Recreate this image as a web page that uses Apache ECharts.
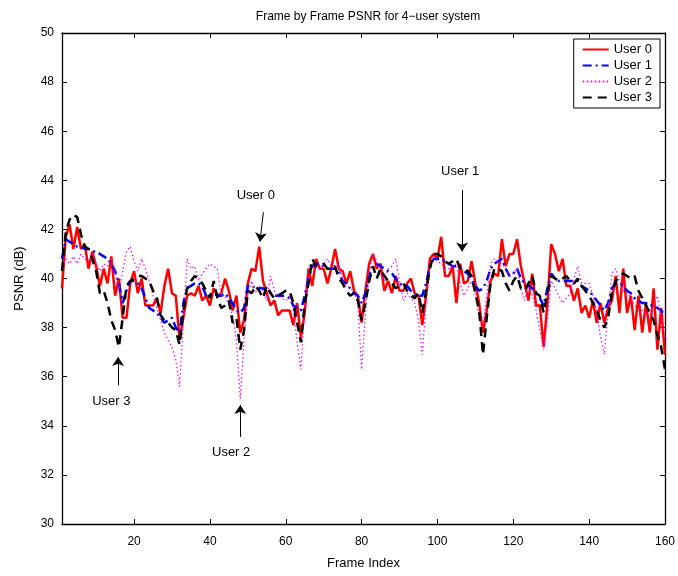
<!DOCTYPE html>
<html>
<head>
    <meta charset="utf-8">
    <script src="https://cdn.jsdelivr.net/npm/echarts@6/dist/echarts.min.js"></script>
    <style>
        html, body { margin: 0; padding: 0; background: #fff; }
        #main { width: 678px; height: 576px; }
    </style>
</head>
<body>
    <div id="main"></div>
    <script type="text/javascript">
        // PSNR per frame
        var user0 = [
            39.6, 41.7, 42.2, 41.2, 42.1, 41.2, 41.4, 40.4, 41.1, 40.5,
            39.7, 40.4, 39.8, 40.9, 39.3, 40.0, 38.4, 38.4, 39.8, 40.3,
            39.4, 40.0, 38.9, 38.9, 38.9, 39.2, 38.6, 39.7, 40.4, 39.4,
            39.3, 37.5, 38.4, 39.3, 39.4, 39.3, 39.7, 39.1, 39.3, 38.9,
            39.6, 39.3, 39.4, 40.0, 39.5, 38.7, 39.3, 37.8, 38.3, 39.8,
            40.4, 40.3, 41.3, 39.9, 39.4, 38.9, 39.1, 38.5, 38.7, 38.7,
            38.7, 38.1, 39.0, 37.6, 38.6, 40.4, 39.7, 40.8, 40.4, 40.4,
            39.8, 40.4, 41.2, 40.4, 40.3, 39.8, 40.3, 39.5, 39.3, 38.2,
            39.5, 40.6, 41.0, 40.4, 40.6, 39.5, 39.9, 39.4, 40.1, 39.5,
            39.5, 39.8, 40.0, 39.4, 39.3, 38.1, 39.3, 40.8, 41.0, 40.8,
            41.7, 40.1, 40.1, 40.5, 39.0, 40.6, 39.8, 39.9, 40.7, 39.8,
            39.0, 37.8, 38.7, 39.9, 40.2, 40.1, 41.6, 40.5, 41.0, 41.0,
            41.6, 40.5, 39.8, 39.1, 40.2, 38.9, 38.9, 37.2, 39.0, 41.4,
            41.0, 40.3, 40.8, 39.7, 39.7, 39.1, 39.6, 38.6, 38.9, 38.4,
            39.1, 38.2, 39.0, 38.2, 38.8, 39.1, 40.1, 38.6, 40.4, 38.6,
            39.3, 37.9, 39.3, 37.8, 39.0, 37.8, 39.6, 37.1, 38.8, 36.9
        ];
        var user1 = [
            40.8, 41.6, 41.5, 41.4, 41.3, 41.3, 41.2, 41.2, 41.1, 41.1,
            41.0, 40.9, 40.8, 40.6, 40.3, 39.8, 39.0, 39.5, 39.9, 39.9,
            39.8, 39.6, 39.2, 38.8, 38.7, 38.6, 38.4, 38.2, 38.3, 38.4,
            38.0, 37.8, 39.0, 39.6, 39.7, 39.8, 39.8, 39.7, 39.3, 39.3,
            39.4, 39.3, 39.3, 39.4, 39.2, 39.0, 38.7, 38.6, 38.8, 39.7,
            39.7, 39.6, 39.6, 39.6, 39.5, 39.4, 39.3, 39.3, 39.3, 39.3,
            39.2, 38.9, 38.8, 38.7, 39.3, 40.0, 40.5, 40.6, 40.6, 40.5,
            40.4, 40.4, 40.4, 40.3, 39.9, 39.8, 39.6, 39.4, 39.3, 39.0,
            39.4, 40.1, 40.5, 40.6, 40.5, 40.4, 40.3, 40.2, 40.0, 39.8,
            39.7, 39.7, 39.5, 39.3, 39.3, 39.3, 39.8, 40.5, 40.8, 40.8,
            40.8, 40.7, 40.6, 40.5, 40.5, 40.4, 40.3, 40.2, 40.0, 39.7,
            39.5, 39.6, 39.9, 40.4, 40.6, 40.7, 40.8, 40.4, 40.1, 40.2,
            40.4, 40.0, 39.8, 39.7, 39.6, 39.4, 39.2, 38.9, 39.6, 40.2,
            40.0, 39.9, 39.9, 39.9, 39.9, 39.9, 39.9, 39.7, 39.6, 39.5,
            39.3, 39.1, 38.9, 38.7, 39.0, 39.6, 39.8, 39.8, 39.7, 39.5,
            39.4, 39.2, 39.1, 39.0, 39.0, 38.9, 38.9, 38.8, 38.7, 38.5
        ];
        var user2 = [
            40.5, 40.8, 40.6, 40.9, 40.6, 41.0, 40.8, 40.7, 41.0, 40.6,
            40.3, 40.6, 40.5, 40.8, 40.3, 39.5, 40.3, 41.1, 41.3, 40.7,
            40.3, 40.8, 40.4, 39.9, 39.3, 38.8, 38.3, 37.8, 37.5, 37.2,
            36.7, 35.6, 38.2, 40.8, 40.4, 40.5, 39.9, 40.2, 40.4, 40.6,
            40.5, 40.4, 39.3, 39.3, 38.9, 38.5, 37.5, 35.1, 37.5, 39.3,
            39.9, 39.4, 39.7, 39.5, 39.1, 40.1, 39.5, 39.3, 39.2, 39.1,
            39.3, 38.7, 37.4, 36.3, 38.8, 40.5, 40.6, 40.5, 40.4, 40.6,
            40.8, 40.5, 40.5, 40.6, 39.9, 39.7, 39.6, 39.5, 39.0, 36.3,
            38.5, 40.2, 41.0, 40.7, 40.2, 39.9, 40.4, 40.5, 40.8, 39.9,
            39.1, 39.4, 39.2, 39.0, 38.3, 36.9, 39.0, 40.4, 40.9, 40.7,
            40.6, 40.4, 40.4, 40.5, 40.6, 39.8, 39.3, 39.6, 39.9, 39.3,
            38.4, 38.1, 39.3, 40.6, 40.8, 40.7, 40.6, 40.4, 40.1, 40.2,
            40.4, 39.6, 39.1, 39.7, 39.3, 38.7, 37.9, 37.1, 38.3, 39.9,
            39.6, 39.3, 39.0, 39.2, 39.4, 40.0, 40.5, 39.8, 39.8, 39.8,
            39.3, 38.7, 37.6, 36.9, 38.7, 40.2, 40.4, 39.9, 39.5, 39.4,
            39.2, 38.9, 38.8, 38.7, 38.6, 38.4, 38.9, 39.3, 38.4, 37.6
        ];
        var user3 = [
            40.3, 41.9, 42.4, 42.6, 42.5, 41.8, 41.3, 41.2, 40.8, 40.3,
            39.4, 39.5, 39.0, 38.3, 37.9, 37.2, 38.4, 39.7, 39.9, 40.0,
            40.1, 40.1, 40.0, 39.9, 39.5, 39.2, 38.5, 38.3, 38.2, 38.0,
            37.9, 37.3, 38.7, 39.6, 39.9, 40.1, 40.0, 39.8, 39.5, 39.2,
            39.9, 39.2, 38.8, 38.9, 39.1, 38.2, 38.4, 37.1, 37.9, 39.5,
            39.4, 39.7, 39.5, 39.2, 39.7, 39.4, 39.2, 39.3, 39.4, 39.5,
            39.5, 39.0, 38.2, 37.4, 39.0, 39.8, 40.8, 40.5, 40.5, 40.6,
            40.4, 40.4, 40.5, 40.0, 39.8, 39.5, 39.3, 39.4, 39.1, 38.3,
            39.0, 39.9, 40.5, 40.0, 40.4, 40.1, 39.9, 39.8, 39.6, 39.7,
            39.8, 39.5, 39.3, 39.2, 39.4, 38.6, 39.5, 40.4, 41.0, 41.0,
            40.9, 40.7, 40.6, 40.7, 40.8, 40.4, 40.4, 40.3, 40.1, 39.4,
            38.7, 36.9, 38.4, 39.8, 40.4, 40.4, 40.3, 39.8, 39.5, 39.9,
            40.1, 39.6, 39.5, 39.8, 40.1, 39.4, 39.3, 38.6, 39.4, 40.1,
            40.0, 39.9, 40.0, 40.1, 39.9, 39.8, 40.0, 39.7, 39.5, 39.3,
            39.0, 38.7, 38.3, 38.0, 38.4, 39.4, 39.9, 40.1, 40.2, 40.1,
            40.0, 40.1, 39.5, 39.2, 38.9, 38.6, 38.3, 37.7, 37.2, 36.3
        ];

        var seriesNames = ['User 0', 'User 1', 'User 2', 'User 3'];
        var xTicks = [20, 40, 60, 80, 100, 120, 140, 160];

        // arrow annotations: text position, arrow start, arrow tip (data units)
        var notes = [
            { text: 'User 3', at: [14.0, 35.0], from: [15.8, 35.65], to: [15.8, 36.8] },
            { text: 'User 0', at: [52.1, 43.4], from: [54.1, 42.7], to: [53.2, 41.5] },
            { text: 'User 2', at: [45.6, 32.9], from: [48.0, 33.55], to: [48.0, 34.85] },
            { text: 'User 1', at: [106.0, 44.35], from: [106.5, 43.6], to: [106.5, 41.1] }
        ];

        var FONT = 'Liberation Sans, Arial, sans-serif';

        function pairs(arr) {
            return arr.map(function (v, i) { return [i + 1, v]; });
        }

        var styles = [
            { color: '#ff0000', width: 2.5, type: 'solid' },
            { color: '#0000ff', width: 2.5, type: [9, 4, 2, 4] },
            { color: '#ff00ff', width: 1.2, type: [1.5, 2.5] },
            { color: '#000000', width: 2.5, type: [9, 6] }
        ];
        var allData = [user0, user1, user2, user3];

        var series = allData.map(function (arr, k) {
            return {
                name: seriesNames[k],
                type: 'line',
                data: pairs(arr),
                symbol: 'none',
                showSymbol: false,
                animation: false,
                itemStyle: { color: styles[k].color },
                lineStyle: styles[k],
                emphasis: { disabled: true },
                z: 2 + k
            };
        });

        // annotations attached to the last series
        series[3].markLine = {
            silent: true,
            animation: false,
            symbol: ['none', 'arrow'],
            symbolSize: 9,
            label: { show: false },
            itemStyle: { color: '#000' },
            lineStyle: { color: '#000', width: 1, type: 'solid', opacity: 1 },
            data: notes.map(function (n) {
                return [{ coord: n.from }, { coord: n.to }];
            })
        };
        series[3].markPoint = {
            silent: true,
            animation: false,
            symbol: 'circle',
            symbolSize: 0,
            label: {
                show: true,
                position: 'inside',
                color: '#000',
                fontFamily: FONT,
                fontSize: 13,
                formatter: function (p) { return p.name; }
            },
            data: notes.map(function (n) {
                return { name: n.text, coord: n.at };
            })
        };

        var tickStyle = { show: true, inside: true, length: 5, lineStyle: { color: '#000', width: 1 } };
        var lineStyleAxis = { show: true, onZero: false, lineStyle: { color: '#000', width: 1.3 } };

        var option = {
            backgroundColor: '#fff',
            animation: false,
            title: {
                text: 'Frame by Frame PSNR for 4\u2212user system',
                left: 363,
                top: 6,
                textAlign: 'center',
                textStyle: { fontFamily: FONT, fontSize: 12, fontWeight: 'normal', color: '#000' }
            },
            legend: {
                data: seriesNames,
                orient: 'vertical',
                right: 18,
                top: 39,
                backgroundColor: '#fff',
                borderColor: '#000',
                borderWidth: 1,
                padding: [4, 8, 4, 8],
                itemWidth: 26,
                itemHeight: 14,
                itemGap: 3,
                itemStyle: { opacity: 0 },
                textStyle: { fontFamily: FONT, fontSize: 13, color: '#000' }
            },
            grid: { left: 62, right: 13, top: 33, bottom: 52, containLabel: false },
            xAxis: [{
                type: 'value',
                min: 1,
                max: 160,
                name: 'Frame Index',
                nameLocation: 'middle',
                nameGap: 33,
                nameTextStyle: { fontFamily: FONT, fontSize: 13, color: '#000' },
                axisLine: lineStyleAxis,
                axisTick: Object.assign({ customValues: xTicks }, tickStyle),
                axisLabel: { customValues: xTicks, margin: 12, fontFamily: FONT, fontSize: 12, color: '#000' },
                splitLine: { show: false }
            }, {
                type: 'value',
                position: 'top',
                min: 1,
                max: 160,
                axisLine: lineStyleAxis,
                axisTick: Object.assign({ customValues: xTicks }, tickStyle),
                axisLabel: { show: false },
                splitLine: { show: false }
            }],
            yAxis: [{
                type: 'value',
                min: 30,
                max: 50,
                interval: 2,
                name: 'PSNR (dB)',
                nameLocation: 'middle',
                nameGap: 36,
                nameTextStyle: { fontFamily: FONT, fontSize: 13, color: '#000' },
                axisLine: lineStyleAxis,
                axisTick: tickStyle,
                axisLabel: { margin: 8, fontFamily: FONT, fontSize: 12, color: '#000' },
                splitLine: { show: false }
            }, {
                type: 'value',
                position: 'right',
                min: 30,
                max: 50,
                interval: 2,
                axisLine: lineStyleAxis,
                axisTick: tickStyle,
                axisLabel: { show: false },
                splitLine: { show: false }
            }],
            series: series
        };

        var myChart = echarts.init(document.getElementById('main'), null, { renderer: 'canvas' });
        myChart.setOption(option);
    </script>
</body>
</html>
